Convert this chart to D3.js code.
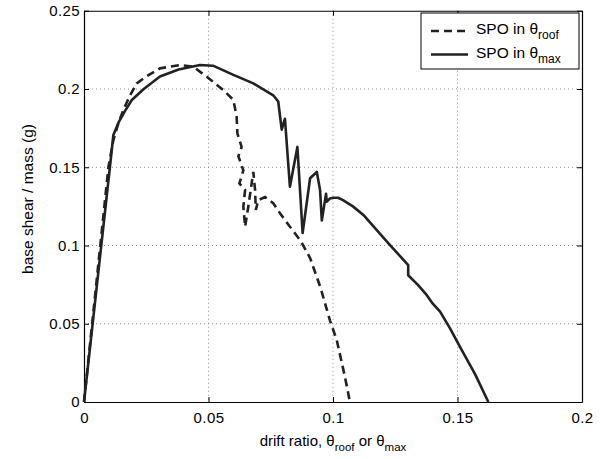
<!DOCTYPE html>
<html>
<head>
<meta charset="utf-8">
<script src="https://cdn.jsdelivr.net/npm/d3@7"></script>
<style>
  body { margin: 0; background: #fff; }
  text { font-family: "Liberation Sans", Arial, sans-serif; fill: #000; }
</style>
</head>
<body>
<div id="chart"></div>
<script>
// SPO curves, drift ratio vs base shear / mass (g)
var roofX = [0, 0.005, 0.0098, 0.0118, 0.0138, 0.0158, 0.0185, 0.0212, 0.025, 0.0305, 0.0386, 0.0439,
  0.0493, 0.0559, 0.0600, 0.0613, 0.0616, 0.0633, 0.0620, 0.0640, 0.0624, 0.0647, 0.0640, 0.0647,
  0.0660, 0.0680, 0.0687, 0.0690, 0.0700, 0.0727, 0.0760, 0.0790, 0.0827, 0.0870, 0.0908, 0.0950,
  0.0988, 0.1015, 0.1048, 0.1068];
var roofY = [0, 0.0765, 0.150, 0.1674, 0.178, 0.1866, 0.196, 0.2036, 0.208, 0.2132, 0.2153, 0.2142,
  0.2078, 0.1994, 0.193, 0.1823, 0.1717, 0.163, 0.157, 0.148, 0.1397, 0.1355, 0.1248, 0.112,
  0.125, 0.147, 0.1355, 0.1227, 0.129, 0.131, 0.127, 0.120, 0.112, 0.103, 0.092, 0.073,
  0.052, 0.0396, 0.016, 0];

var maxX = [0, 0.005, 0.0104, 0.0118, 0.014, 0.0165, 0.0192, 0.024, 0.0305, 0.038, 0.0466, 0.0518,
  0.0600, 0.0680, 0.0760, 0.0780, 0.0794, 0.0807, 0.0827, 0.0857, 0.0878, 0.0908, 0.0935, 0.0948,
  0.0955, 0.0972, 0.0975, 0.0988, 0.1000, 0.1020, 0.1040, 0.1080, 0.1122, 0.1175, 0.1229, 0.1302,
  0.1302, 0.1340, 0.1376, 0.1400, 0.1430, 0.1470, 0.1510, 0.1570, 0.1624];
var maxY = [0, 0.072, 0.150, 0.1706, 0.179, 0.186, 0.193, 0.200, 0.208, 0.2125, 0.2153, 0.2149,
  0.209, 0.2036, 0.196, 0.192, 0.174, 0.181, 0.1376, 0.163, 0.108, 0.143, 0.147, 0.1355,
  0.116, 0.133, 0.128, 0.130, 0.1305, 0.1305, 0.129, 0.125, 0.1195, 0.110, 0.1003, 0.0875,
  0.081, 0.075, 0.0684, 0.063, 0.0577, 0.047, 0.0353, 0.018, 0];

var xTicks = [0, 0.05, 0.1, 0.15, 0.2];
var xTickLabels = ["0", "0.05", "0.1", "0.15", "0.2"];
var yTicks = [0, 0.05, 0.1, 0.15, 0.2, 0.25];
var yTickLabels = ["0", "0.05", "0.1", "0.15", "0.2", "0.25"];

var W = 606, H = 459;
var pLeft = 84, pRight = 582, pTop = 10.75, pBottom = 402;

var svg = d3.select("#chart").append("svg")
    .attr("width", W)
    .attr("height", H);

var x = d3.scaleLinear().domain([0, 0.2]).range([pLeft, pRight]);
var y = d3.scaleLinear().domain([0, 0.25]).range([pBottom, pTop]);

// grid
var grid = svg.append("g");
grid.selectAll("line.gx")
    .data(xTicks.slice(1, -1))
    .enter().append("line")
    .attr("x1", function(d) { return x(d); })
    .attr("x2", function(d) { return x(d); })
    .attr("y1", pTop).attr("y2", pBottom)
    .style("stroke", "#777")
    .style("stroke-width", 0.8)
    .style("stroke-dasharray", "1,3");
grid.selectAll("line.gy")
    .data(yTicks.slice(1, -1))
    .enter().append("line")
    .attr("y1", function(d) { return y(d); })
    .attr("y2", function(d) { return y(d); })
    .attr("x1", pLeft).attr("x2", pRight)
    .style("stroke", "#777")
    .style("stroke-width", 0.8)
    .style("stroke-dasharray", "1,3");

// axes (MATLAB style: ticks inside, box)
var xAxisB = d3.axisBottom(x).tickValues(xTicks).tickSizeInner(-5).tickSizeOuter(0)
    .tickPadding(10).tickFormat(function(d, i) { return xTickLabels[i]; });
var xAxisT = d3.axisTop(x).tickValues(xTicks).tickSizeInner(-5).tickSizeOuter(0).tickFormat("");
var yAxisL = d3.axisLeft(y).tickValues(yTicks).tickSizeInner(-5).tickSizeOuter(0)
    .tickPadding(4).tickFormat(function(d, i) { return yTickLabels[i]; });
var yAxisR = d3.axisRight(y).tickValues(yTicks).tickSizeInner(-5).tickSizeOuter(0).tickFormat("");

function styleAxis(g) {
  g.select(".domain").style("stroke", "#000").style("stroke-width", 1.2);
  g.selectAll(".tick line").style("stroke", "#000");
  g.selectAll(".tick text").style("font-size", "15px")
    .style("letter-spacing", "0.4px")
    .style("font-family", "'Liberation Sans', Arial, sans-serif");
}

svg.append("g").attr("transform", "translate(0," + pBottom + ")").call(xAxisB).call(styleAxis);
svg.append("g").attr("transform", "translate(0," + pTop + ")").call(xAxisT).call(styleAxis);
svg.append("g").attr("transform", "translate(" + pLeft + ",0)").call(yAxisL).call(styleAxis);
svg.append("g").attr("transform", "translate(" + pRight + ",0)").call(yAxisR).call(styleAxis);

// curves
var line = d3.line()
    .x(function(d) { return x(d[0]); })
    .y(function(d) { return y(d[1]); });

var roofPts = roofX.map(function(v, i) { return [v, roofY[i]]; });
var maxPts = maxX.map(function(v, i) { return [v, maxY[i]]; });

svg.append("path")
    .attr("d", line(maxPts))
    .style("fill", "none")
    .style("stroke", "#222")
    .style("stroke-width", 2.6)
    .style("stroke-linejoin", "round");

svg.append("path")
    .attr("d", line(roofPts))
    .style("fill", "none")
    .style("stroke", "#222")
    .style("stroke-width", 2.6)
    .style("stroke-dasharray", "8,5");

// axis labels
var xl = svg.append("text")
    .attr("x", (pLeft + pRight) / 2)
    .attr("y", 446)
    .attr("text-anchor", "middle")
    .style("font-size", "15px");
xl.append("tspan").text("drift ratio, \u03B8");
xl.append("tspan").attr("dy", 5).style("font-size", "11.5px").text("roof");
xl.append("tspan").attr("dy", -5).text(" or \u03B8");
xl.append("tspan").attr("dy", 5).style("font-size", "11.5px").text("max");

svg.append("text")
    .attr("transform", "translate(33,199) rotate(-90)")
    .attr("text-anchor", "middle")
    .style("font-size", "15.5px")
    .text("base shear / mass (g)");

// legend
var lg = svg.append("g");
lg.append("rect")
    .attr("x", 421).attr("y", 13)
    .attr("width", 158).attr("height", 56)
    .style("fill", "#fff")
    .style("stroke", "#000")
    .style("stroke-width", 1);

var legendItems = [
  { sub: "roof", dash: "8,5", yy: 31 },
  { sub: "max", dash: null, yy: 54.5 }
];
legendItems.forEach(function(it) {
  lg.append("line")
    .attr("x1", 431).attr("x2", 468)
    .attr("y1", it.yy).attr("y2", it.yy)
    .style("stroke", "#222")
    .style("stroke-width", 2.6)
    .style("stroke-dasharray", it.dash);
  var t = lg.append("text")
    .attr("x", 476).attr("y", it.yy + 3)
    .style("font-size", "15.5px");
  t.append("tspan").text("SPO in \u03B8");
  t.append("tspan").attr("dy", 5).style("font-size", "12px").text(it.sub);
});
</script>
</body>
</html>
